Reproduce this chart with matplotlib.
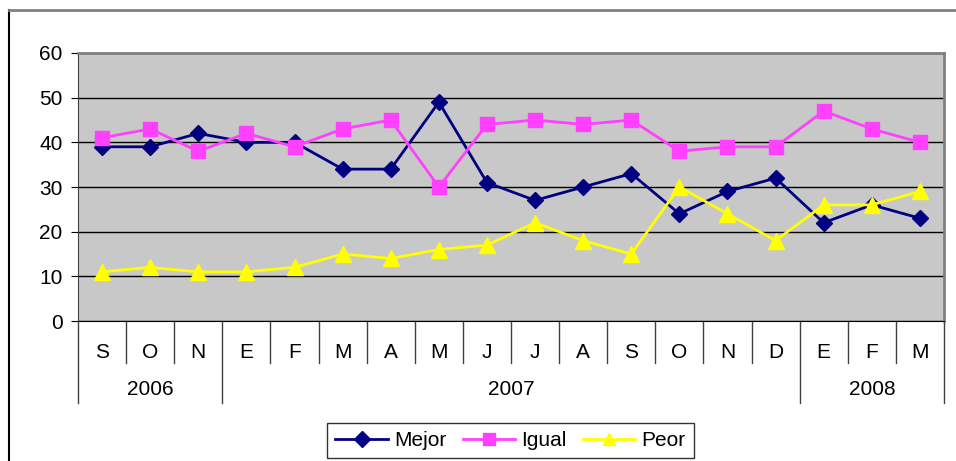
import matplotlib.pyplot as plt
from matplotlib.lines import Line2D
import matplotlib.transforms as mtransforms
import numpy as np

plt.rcParams['font.family'] = ['Liberation Sans', 'DejaVu Sans']

months = ['S', 'O', 'N', 'E', 'F', 'M', 'A', 'M', 'J', 'J', 'A', 'S', 'O', 'N', 'D', 'E', 'F', 'M']
years = ['2006', '2007', '2008']
year_counts = [3, 12, 3]

mejor = [39, 39, 42, 40, 40, 34, 34, 49, 31, 27, 30, 33, 24, 29, 32, 22, 26, 23]
igual = [41, 43, 38, 42, 39, 43, 45, 30, 44, 45, 44, 45, 38, 39, 39, 47, 43, 40]
peor = [11, 12, 11, 11, 12, 15, 14, 16, 17, 22, 18, 15, 30, 24, 18, 26, 26, 29]

fig = plt.figure(figsize=(9.56, 4.61), dpi=100)
W, H = 956, 461
ax = fig.add_axes([78 / W, (H - 321) / H, (944 - 78) / W, (321 - 53) / H])
ax.set_facecolor('#C8C8C8')

x = np.arange(len(months))
ax.plot(x, mejor, color='#000080', lw=2, marker='D', ms=8, label='Mejor', zorder=3)
ax.plot(x, igual, color='#FF40FF', lw=2, marker='s', ms=10, label='Igual', zorder=3)
ax.plot(x, peor, color='#FFFF00', lw=2, marker='^', ms=11, label='Peor', zorder=3)

ax.set_xlim(-0.5, len(months) - 0.5)
ax.set_ylim(0, 60)
ax.set_yticks(range(0, 61, 10))
ax.yaxis.grid(True, color='black', lw=1)
ax.set_axisbelow(True)
ax.tick_params(axis='y', labelsize=15, length=5, direction='out', color='black', pad=6)
ax.set_xticks([])

for s in ['top', 'right']:
    ax.spines[s].set_color('#808080')
    ax.spines[s].set_linewidth(2)
ax.spines['left'].set_color('#404040')
ax.spines['bottom'].set_color('black')

trans = mtransforms.blended_transform_factory(ax.transData, ax.transAxes)
month_bot = -0.157
year_bot = -0.306
bounds = np.cumsum([0] + year_counts) - 0.5
for i in range(len(months) + 1):
    xb = i - 0.5
    yb = year_bot if xb in bounds else month_bot
    ax.add_line(Line2D([xb, xb], [0, yb], transform=trans, color='#404040', lw=1, clip_on=False))
for i, m in enumerate(months):
    ax.text(i, -0.116, m, transform=trans, ha='center', va='center', fontsize=15)
for k, yname in enumerate(years):
    xc = (bounds[k] + bounds[k + 1]) / 2
    ax.text(xc, -0.254, yname, transform=trans, ha='center', va='center', fontsize=15)

leg = fig.legend(loc='center', bbox_to_anchor=(510.5 / W, 20.5 / H), ncol=3, fontsize=15,
                 frameon=True, fancybox=False, edgecolor='black', borderpad=0.4,
                 handlelength=2.5, columnspacing=0.8, handletextpad=0.3, borderaxespad=0)
leg.get_frame().set_linewidth(1)
for h in leg.legend_handles:
    h.set_markersize(8)

# outer chart frame
fig.add_artist(Line2D([9 / W, 9 / W], [0, (H - 10) / H], color='black', lw=1.5, transform=fig.transFigure))
fig.add_artist(Line2D([9 / W, 1], [(H - 10) / H, (H - 10) / H], color='#808080', lw=2, transform=fig.transFigure))

fig.savefig('out.png', dpi=100)
